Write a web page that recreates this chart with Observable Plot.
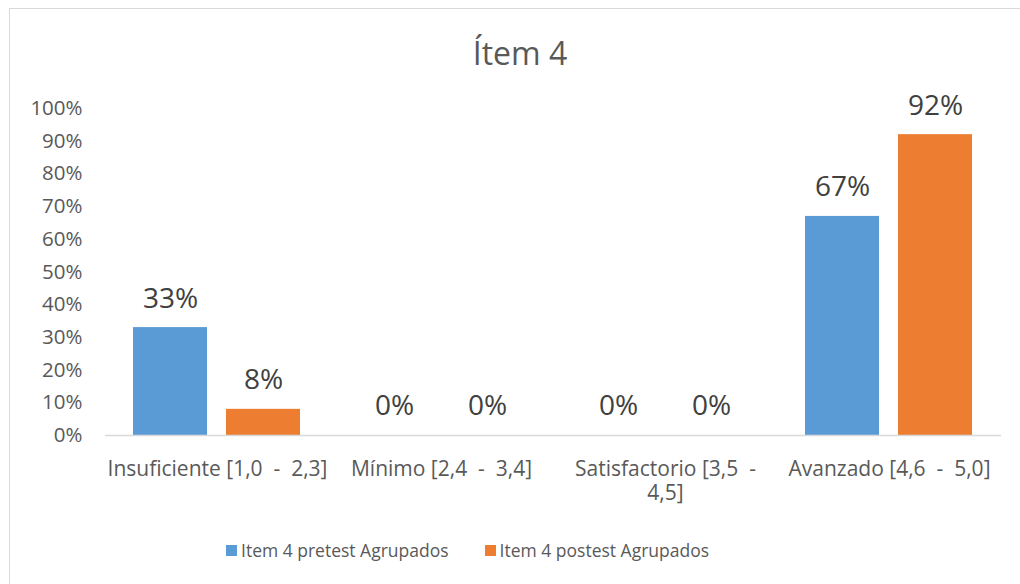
<!DOCTYPE html>
<html>
<head>
<meta charset="utf-8">
<script src="https://cdn.jsdelivr.net/npm/d3@7"></script>
<script src="https://cdn.jsdelivr.net/npm/@observablehq/plot@0.6"></script>
<style>
  html, body { margin: 0; padding: 0; background: #fff; overflow: hidden; }
  #chart { position: relative; width: 1020px; height: 584px; font-family: "Open Sans", sans-serif; overflow: hidden; }
  #frame { position: absolute; left: 9px; top: 8px; right: -6px; bottom: -6px; border: 1px solid #d9d9d9; }
  #title { position: absolute; left: 0; top: 33px; width: 1040px; text-align: center; font-size: 32px; line-height: 40px; color: #595959; }
  #plot { position: absolute; left: 0; top: 75px; }
  #plot svg text { white-space: pre; }
  #legend { position: absolute; left: 226px; top: 535px; height: 30px; display: flex; align-items: center; font-size: 17.5px; color: #595959; white-space: pre; }
  .key { display: flex; align-items: center; margin-right: 36px; }
  .swatch { width: 11px; height: 11px; margin-right: 4px; }
</style>
</head>
<body>
<div id="chart">
  <div id="frame"></div>
  <div id="title">Ítem 4</div>
  <div id="plot"></div>
  <div id="legend"></div>
</div>
<script>
// Score bands and their axis labels (the third one wraps onto two lines)
const categories = ["Insuficiente [1,0  -  2,3]", "Mínimo [2,4  -  3,4]", "Satisfactorio [3,5  -  4,5]", "Avanzado [4,6  -  5,0]"];
const categoryTickLabels = ["Insuficiente [1,0  -  2,3]", "Mínimo [2,4  -  3,4]", "Satisfactorio [3,5  -\n4,5]", "Avanzado [4,6  -  5,0]"];

// Two grouped series
const series = ["Item 4 pretest Agrupados", "Item 4 postest Agrupados"];
const pretest = [0.33, 0, 0, 0.67];
const postest = [0.08, 0, 0, 0.92];
const seriesColors = ["#5b9bd5", "#ed7d31"];

// Y axis ticks
const yTicks = [0, 0.1, 0.2, 0.3, 0.4, 0.5, 0.6, 0.7, 0.8, 0.9, 1];

const data = categories.flatMap((c, i) => [
  {category: c, series: series[0], value: pretest[i]},
  {category: c, series: series[1], value: postest[i]}
]);

const pct = d3.format(".0%");

const chart = Plot.plot({
  width: 1020,
  height: 445,
  marginLeft: 103,
  marginRight: 18,
  marginTop: 33,
  marginBottom: 85,
  style: {fontFamily: "'Open Sans', sans-serif", background: "transparent", overflow: "visible"},
  fx: {domain: categories, padding: 0},
  x: {domain: series, paddingInner: 0.202, paddingOuter: 0.298, axis: null},
  y: {domain: [0, 1]},
  color: {domain: series, range: seriesColors},
  marks: [
    Plot.axisY({
      ticks: yTicks, tickFormat: pct, tickSize: 0, tickPadding: 23,
      fontSize: 20.5, color: "#595959", label: null
    }),
    Plot.axisFx({
      anchor: "bottom",
      tickSize: 0, tickPadding: 24, label: null,
      tickFormat: (d) => categoryTickLabels[categories.indexOf(d)],
      fontSize: 21, color: "#595959", lineHeight: 1.12
    }),
    Plot.barY(data, {fx: "category", x: "series", y: "value", fill: "series"}),
    Plot.ruleY([0], {stroke: "#d9d9d9", strokeWidth: 1.5}),
    Plot.text(data, {
      fx: "category", x: "series", y: "value",
      text: (d) => pct(d.value), dy: -29,
      fontSize: 28, fill: "#404040"
    })
  ]
});
document.getElementById("plot").appendChild(chart);

// Legend below the plot
const legend = document.getElementById("legend");
series.forEach((s, i) => {
  const key = document.createElement("div");
  key.className = "key";
  const sw = document.createElement("span");
  sw.className = "swatch";
  sw.style.background = seriesColors[i];
  const label = document.createElement("span");
  label.textContent = s;
  key.appendChild(sw);
  key.appendChild(label);
  legend.appendChild(key);
});
</script>
</body>
</html>
